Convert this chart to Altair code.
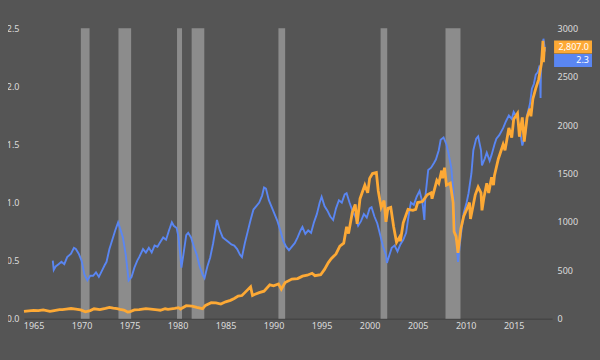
import altair as alt
import pandas as pd

# ---------------- data ----------------
blue_t = [1967.0, 1967.1, 1967.3, 1967.6, 1967.9, 1968.2, 1968.5, 1968.9, 1969.2, 1969.4,
          1969.7, 1970.0, 1970.3, 1970.6, 1970.9, 1971.2, 1971.5, 1971.8, 1972.1, 1972.4,
          1972.6, 1972.9, 1973.2, 1973.5, 1973.8, 1974.0, 1974.3, 1974.6, 1974.9, 1975.2,
          1975.5, 1975.8, 1976.0, 1976.4, 1976.7, 1977.0, 1977.3, 1977.6, 1977.9, 1978.2,
          1978.5, 1978.8, 1979.1, 1979.4, 1979.6, 1979.9, 1980.1, 1980.4, 1980.6, 1980.9,
          1981.1, 1981.4, 1981.7, 1982.0, 1982.3, 1982.6, 1982.8, 1983.1, 1983.4, 1983.7,
          1984.0, 1984.1, 1984.4, 1984.7, 1985.0, 1985.3, 1985.6, 1985.9, 1986.2, 1986.5,
          1986.7, 1987.0, 1987.3, 1987.6, 1987.9, 1988.2, 1988.5, 1988.8, 1989.0, 1989.2,
          1989.5, 1989.8, 1990.1, 1990.4, 1990.7, 1991.0, 1991.3, 1991.6, 1991.9, 1992.2,
          1992.5, 1992.8, 1993.0, 1993.3, 1993.6, 1993.9, 1994.2, 1994.5, 1994.8, 1995.0,
          1995.3, 1995.6, 1995.9, 1996.2, 1996.5, 1996.8, 1997.1, 1997.4, 1997.6, 1997.9,
          1998.2, 1998.5, 1998.8, 1999.1, 1999.4, 1999.7, 2000.0, 2000.2, 2000.5, 2000.8,
          2001.1, 2001.4, 2001.7, 2001.8, 2002.1, 2002.3, 2002.6, 2002.9, 2003.2, 2003.5,
          2003.8, 2004.1, 2004.3, 2004.6, 2004.9, 2005.2, 2005.5, 2005.7, 2005.8, 2006.1,
          2006.4, 2006.7, 2006.9, 2007.2, 2007.4, 2007.7, 2008.0, 2008.2, 2008.5, 2008.7,
          2008.9, 2009.1, 2009.2, 2009.5, 2009.8, 2010.1, 2010.3, 2010.6, 2010.8, 2011.1,
          2011.3, 2011.6, 2011.7, 2012.0, 2012.2, 2012.5, 2012.7, 2013.0, 2013.2, 2013.5,
          2013.9, 2014.2, 2014.5, 2014.8, 2015.0, 2015.3, 2015.5, 2015.7, 2015.9, 2016.2,
          2016.4, 2016.7, 2016.9, 2017.1, 2017.3, 2017.5, 2017.7, 2017.8, 2017.85, 2018.0,
          2018.1, 2018.2, 2018.25]
blue_v = [0.50, 0.42, 0.45, 0.47, 0.49, 0.47, 0.53, 0.56, 0.61, 0.60,
          0.56, 0.50, 0.38, 0.33, 0.37, 0.37, 0.40, 0.36, 0.41, 0.46,
          0.49, 0.60, 0.68, 0.76, 0.83, 0.78, 0.70, 0.55, 0.33, 0.36,
          0.44, 0.50, 0.53, 0.60, 0.57, 0.61, 0.57, 0.63, 0.62, 0.66,
          0.70, 0.68, 0.76, 0.83, 0.80, 0.78, 0.70, 0.44, 0.55, 0.72,
          0.74, 0.70, 0.62, 0.55, 0.45, 0.38, 0.35, 0.45, 0.53, 0.65,
          0.80, 0.85, 0.76, 0.70, 0.68, 0.66, 0.64, 0.63, 0.60, 0.55,
          0.53, 0.65, 0.75, 0.85, 0.94, 0.97, 1.00, 1.06, 1.13, 1.12,
          1.02, 0.96, 0.90, 0.84, 0.76, 0.67, 0.62, 0.59, 0.62, 0.65,
          0.70, 0.76, 0.79, 0.73, 0.76, 0.74, 0.83, 0.90, 1.00, 1.05,
          0.97, 0.93, 0.88, 0.85, 0.95, 1.02, 1.00, 1.07, 1.08, 1.00,
          0.93, 0.88, 0.80, 0.84, 0.90, 0.87, 0.95, 0.96, 0.88, 0.82,
          0.72, 0.62, 0.55, 0.48, 0.56, 0.61, 0.63, 0.58, 0.64, 0.68,
          0.74, 0.91, 1.00, 0.98, 1.05, 1.10, 1.00, 0.85, 1.05, 1.28,
          1.30, 1.34, 1.37, 1.45, 1.54, 1.56, 1.50, 1.43, 1.30, 1.11,
          0.80, 0.60, 0.49, 0.72, 0.91, 1.00, 1.08, 1.25, 1.45, 1.55,
          1.57, 1.45, 1.32, 1.38, 1.43, 1.36, 1.41, 1.50, 1.55, 1.58,
          1.64, 1.70, 1.75, 1.72, 1.78, 1.74, 1.69, 1.60, 1.49, 1.58,
          1.75, 1.85, 1.98, 2.02, 2.10, 2.12, 2.18, 1.90, 2.20, 2.30,
          2.41, 2.35, 2.30]

orange_t = [1964.0, 1964.5, 1965.0, 1965.5, 1966.0, 1966.7, 1967.0, 1967.7, 1968.0, 1968.4,
            1968.9, 1969.4, 1969.9, 1970.4, 1970.9, 1971.3, 1971.9, 1972.5, 1972.9, 1973.3,
            1973.7, 1974.0, 1974.4, 1974.8, 1975.0, 1975.5, 1976.0, 1976.7, 1977.2, 1977.9,
            1978.2, 1978.7, 1979.0, 1979.7, 1980.1, 1980.3, 1980.9, 1981.5, 1982.0, 1982.6,
            1982.9, 1983.5, 1984.0, 1984.5, 1985.0, 1985.5, 1985.9, 1986.3, 1986.7, 1987.0,
            1987.6, 1987.8, 1988.0, 1988.5, 1989.0, 1989.6, 1990.0, 1990.5, 1990.8, 1991.2,
            1991.9, 1992.5, 1993.0, 1993.5, 1994.0, 1994.3, 1994.9, 1995.3, 1995.7, 1996.0,
            1996.5, 1996.9, 1997.3, 1997.6, 1997.8, 1998.2, 1998.5, 1998.7, 1999.0, 1999.5,
            1999.8, 2000.0, 2000.3, 2000.7, 2000.9, 2001.2, 2001.5, 2001.7, 2001.9, 2002.2,
            2002.5, 2002.8, 2003.1, 2003.2, 2003.5, 2004.0, 2004.5, 2004.8, 2005.0, 2005.5,
            2006.0, 2006.4, 2006.5, 2007.0, 2007.2, 2007.5, 2007.6, 2007.8, 2008.0, 2008.4,
            2008.7, 2008.8, 2009.0, 2009.2, 2009.5, 2009.8, 2010.2, 2010.4, 2010.5, 2010.8,
            2011.0, 2011.3, 2011.6, 2011.7, 2011.9, 2012.2, 2012.4, 2012.7, 2012.9, 2013.0,
            2013.4, 2013.9, 2014.1, 2014.5, 2014.8, 2015.0, 2015.4, 2015.6, 2015.9, 2016.1,
            2016.4, 2016.7, 2016.8, 2017.0, 2017.3, 2017.6, 2017.9, 2018.05, 2018.1, 2018.2]
orange_v = [76, 82, 86, 84, 92, 77, 82, 95, 95, 100,
            106, 100, 92, 72, 84, 103, 94, 107, 118, 110,
            104, 97, 90, 70, 72, 92, 95, 105, 100, 92,
            88, 103, 98, 108, 115, 100, 135, 130, 118, 105,
            138, 165, 163, 152, 175, 190, 210, 235, 240, 270,
            330, 240, 250, 270, 285, 350, 340, 360, 305, 375,
            410, 415, 440, 450, 470, 445, 455, 510, 580, 620,
            670, 750, 780, 950, 880, 1100, 1180, 980, 1240, 1380,
            1300, 1450, 1500, 1510, 1320, 1150, 1220, 1000, 1140, 1150,
            950, 790, 840, 800, 990, 1130, 1120, 1130, 1200, 1210,
            1280, 1300, 1240, 1430, 1400, 1530, 1450, 1560, 1380, 1400,
            1200, 900, 850, 680, 930, 1060, 1150, 1200, 1030, 1180,
            1280, 1360, 1300, 1120, 1250, 1400, 1300, 1460, 1380, 1480,
            1650, 1800, 1740, 1970, 1870, 2060, 2120, 1880, 2080, 1830,
            2080, 2170, 2090, 2270, 2380, 2470, 2640, 2870, 2650, 2807]

rec_start = [1969.92, 1973.84, 1979.94, 1981.46, 1990.5, 2001.14, 2007.9]
rec_end = [1970.83, 1975.16, 1980.46, 1982.78, 1991.2, 2001.83, 2009.46]

year_ticks = [1965, 1970, 1975, 1980, 1985, 1990, 1995, 2000, 2005, 2010, 2015]
left_ticks = [0.0, 0.5, 1.0, 1.5, 2.0, 2.5]
right_ticks = [0, 500, 1000, 1500, 2000, 2500, 3000]
orange_label = "2,807.0"
blue_label = "2.3"

BG = "#555555"
BLUE = "#5a86f2"
ORANGE = "#fda935"
BAR = "#8c8c8c"
TXT = "#dcdcdc"
FONT = "Noto Sans"


def to_date(y):
    yr = int(y)
    return pd.Timestamp(year=yr, month=1, day=1) + pd.Timedelta(days=(y - yr) * 365.25)


blue_df = pd.DataFrame({"date": [to_date(t) for t in blue_t], "value": blue_v})
orange_df = pd.DataFrame({"date": [to_date(t) for t in orange_t], "value": orange_v})
rec_df = pd.DataFrame({"start": [to_date(t) for t in rec_start],
                       "end": [to_date(t) for t in rec_end]})
blue_last = pd.DataFrame({"value": [blue_v[-1]], "label": [blue_label]})
orange_last = pd.DataFrame({"value": [orange_v[-1]], "label": [orange_label]})

x_scale = alt.Scale(domain=[alt.DateTime(year=1964, month=1, date=1),
                            alt.DateTime(year=2019, month=1, date=1)])
x_axis = alt.Axis(values=[alt.DateTime(year=y, month=1, date=1) for y in year_ticks],
                  format="%Y", domain=True, domainColor="#464646", domainWidth=1.5,
                  labelPadding=3, labelFlush=False)
left_scale = alt.Scale(domain=[0, 2.5], nice=False)
right_scale = alt.Scale(domain=[0, 3000], nice=False)
left_axis = alt.Axis(orient="left", values=left_ticks, format=".1f", labelPadding=5,
                     domain=False, ticks=False, grid=False)
right_axis = alt.Axis(orient="right", values=right_ticks, format="d", labelPadding=5,
                      domain=False, ticks=False, grid=False)

bars = alt.Chart(rec_df).mark_rect(color=BAR, opacity=1).encode(
    x=alt.X("start:T", scale=x_scale, axis=x_axis, title=None),
    x2="end:T",
)

blue_line = alt.Chart(blue_df).mark_line(color=BLUE, strokeWidth=1.9).encode(
    x=alt.X("date:T", scale=x_scale, axis=x_axis, title=None),
    y=alt.Y("value:Q", scale=left_scale, title=None, axis=left_axis),
)

box_shape = "M-1,-0.342L1,-0.342L1,0.342L-1,0.342Z"

blue_box = alt.Chart(blue_last).mark_point(
    shape=box_shape, size=1444, filled=True, opacity=1, color=BLUE, strokeWidth=0, yOffset=9
).encode(x=alt.value(550), y=alt.Y("value:Q", scale=left_scale, title=None, axis=left_axis))

blue_text = alt.Chart(blue_last).mark_text(
    align="right", baseline="middle", color="white", fontSize=9, font=FONT, dy=9
).encode(x=alt.value(566), y=alt.Y("value:Q", scale=left_scale, title=None, axis=left_axis),
         text="label:N")

orange_line = alt.Chart(orange_df).mark_line(color=ORANGE, strokeWidth=2.8).encode(
    x=alt.X("date:T", scale=x_scale, axis=x_axis, title=None),
    y=alt.Y("value:Q", scale=right_scale, title=None, axis=right_axis),
)

orange_box = alt.Chart(orange_last).mark_point(
    shape=box_shape, size=1444, filled=True, opacity=1, color=ORANGE, strokeWidth=0
).encode(x=alt.value(550), y=alt.Y("value:Q", scale=right_scale, title=None, axis=right_axis))

orange_text = alt.Chart(orange_last).mark_text(
    align="right", baseline="middle", color="white", fontSize=9, font=FONT
).encode(x=alt.value(566), y=alt.Y("value:Q", scale=right_scale, title=None, axis=right_axis),
         text="label:N")

left_group = alt.layer(bars, blue_line, blue_box, blue_text)
right_group = alt.layer(orange_line, orange_box, orange_text)

chart = alt.layer(left_group, right_group).resolve_scale(y="independent").properties(
    width=529, height=291, background=BG,
    padding={"left": 16, "top": 20, "right": 40, "bottom": 25},
    autosize=alt.AutoSizeParams(type="none"),
).configure_view(stroke=None).configure_axis(
    labelColor=TXT, labelFont=FONT, labelFontSize=9, grid=False, ticks=False,
)

# make the page background match the chart background
try:
    import altair.utils.html as _ah
    _orig_tpl = _ah.TEMPLATES["standard"]

    class _Tpl:
        def render(self, **kw):
            html = _orig_tpl.render(**kw)
            return html.replace("<head>", "<head><style>html,body{background:#555555;}</style>", 1)

    _ah.TEMPLATES["standard"] = _Tpl()
except Exception:
    pass

chart.save("out.html", embed_options={"renderer": "svg", "actions": False})
